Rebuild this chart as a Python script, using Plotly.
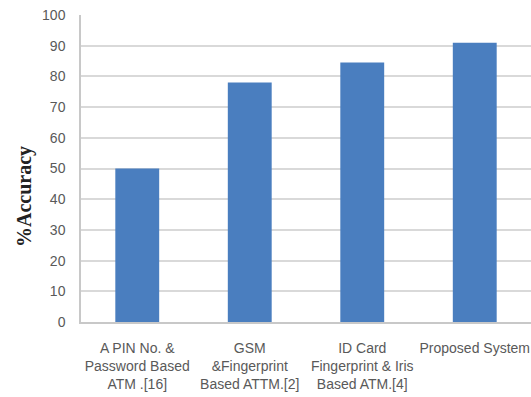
import plotly.graph_objects as go

categories = [
    "A PIN No. &<br>Password Based<br>ATM .[16]",
    "GSM<br>&Fingerprint<br>Based ATTM.[2]",
    "ID Card<br>Fingerprint & Iris<br>Based ATM.[4]",
    "Proposed System",
]
accuracy = [50, 78, 84.5, 91]
y_ticks = [0, 10, 20, 30, 40, 50, 60, 70, 80, 90, 100]

fig = go.Figure(
    go.Bar(
        x=categories,
        y=accuracy,
        marker=dict(color="#4a7ebf", line=dict(width=0)),
        width=0.39,
    )
)

fig.update_layout(
    width=531,
    height=397,
    margin=dict(l=81, r=0, t=15, b=75),
    paper_bgcolor="white",
    plot_bgcolor="white",
    showlegend=False,
    font=dict(family="Liberation Sans", size=14, color="#595959"),
)

fig.update_xaxes(
    tickangle=0,
    showline=True,
    linecolor="#c8c8c8",
    linewidth=1.5,
    showgrid=False,
    ticks="",
    ticklabelstandoff=12,
    tickfont=dict(size=14, color="#595959"),
)

fig.update_yaxes(
    range=[0, 100],
    tickvals=y_ticks,
    showgrid=True,
    gridcolor="#d9d9d9",
    gridwidth=1.5,
    zeroline=False,
    showline=True,
    linecolor="#c8c8c8",
    linewidth=1.5,
    ticks="outside",
    ticklen=11,
    tickcolor="rgba(0,0,0,0)",
    tickfont=dict(size=14, color="#595959"),
)

fig.add_annotation(
    text="<b>%Accuracy</b>",
    xref="paper",
    yref="paper",
    x=-0.127,
    y=0.41,
    xanchor="center",
    yanchor="middle",
    textangle=-90,
    showarrow=False,
    font=dict(family="Liberation Serif", size=20, color="#222222"),
)

fig.write_html("out.html")
